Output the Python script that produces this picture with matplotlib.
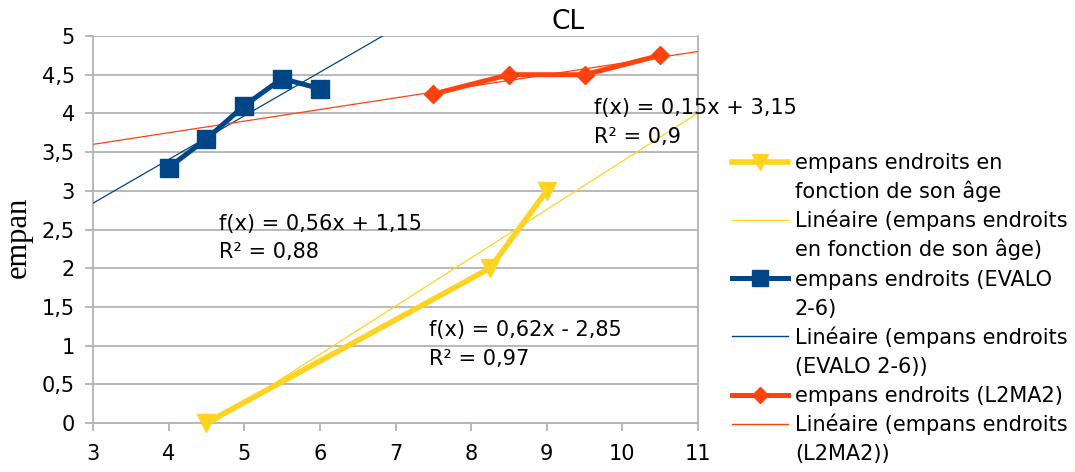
import matplotlib
matplotlib.use("Agg")
import matplotlib.pyplot as plt
from matplotlib.lines import Line2D
import numpy as np

plt.rcParams['font.family'] = ['DejaVu Sans']

# Data
age_x = [4.5, 8.25, 9.0]
age_y = [0.0, 2.0, 3.0]
evalo_x = [4.0, 4.5, 5.0, 5.5, 6.0]
evalo_y = [3.3, 3.67, 4.1, 4.45, 4.32]
l2ma2_x = [7.5, 8.5, 9.5, 10.5]
l2ma2_y = [4.25, 4.5, 4.5, 4.75]

labels = ["empans endroits en\nfonction de son âge",
          "Linéaire (empans endroits\nen fonction de son âge)",
          "empans endroits (EVALO\n2-6)",
          "Linéaire (empans endroits\n(EVALO 2-6))",
          "empans endroits (L2MA2)",
          "Linéaire (empans endroits\n(L2MA2))"]
eq_texts = ["f(x) = 0,62x - 2,85\nR² = 0,97",
            "f(x) = 0,56x + 1,15\nR² = 0,88",
            "f(x) = 0,15x + 3,15\nR² = 0,9"]
eq_pos = [(7.44, 1.01), (4.67, 2.39), (9.63, 3.88)]
yticks = np.arange(0, 5.01, 0.5)
xticks = list(range(3, 12))

YEL = '#FFD320'
BLU = '#004586'
RED = '#FF420E'

W, H = 1075, 472
fig = plt.figure(figsize=(W/100, H/100), dpi=100)
ax = fig.add_axes([93/W, 1-423/H, (698-93)/W, (423-36)/H])

def fx(px):
    return px / W

def fy(py):
    return 1 - py / H

FS = 15

series = [(age_x, age_y, YEL, 'v', 13, 4.0, 11),
          (evalo_x, evalo_y, BLU, 's', 13, 3.6, 12),
          (l2ma2_x, l2ma2_y, RED, 'D', 9.5, 3.6, 8)]
xt = np.linspace(3, 11, 200)
for xs, ys, col, mk, ms, lw, lms in series:
    ax.plot(xs, ys, color=col, lw=lw, marker=mk, ms=ms, zorder=4, clip_on=False)
    k, b = np.polyfit(xs, ys, 1)
    ax.plot(xt, k*xt + b, color=col, lw=0.9, zorder=3)

for txt, (x, y) in zip(eq_texts, eq_pos):
    ax.text(x, y, txt, fontsize=FS, va='center', ha='left', linespacing=1.55, zorder=5)

ax.set_xlim(3, 11)
ax.set_ylim(0, 5)
ax.set_xticks(xticks)
ax.set_yticks(yticks)
ax.set_yticklabels([f"{v:g}".replace('.', ',') for v in yticks])
ax.grid(True, axis='y', color='#b3b3b3', lw=1.3)
ax.grid(False, axis='x')
ax.spines['top'].set_visible(False)
for s in ['left', 'bottom', 'right']:
    ax.spines[s].set_color('#b3b3b3')
    ax.spines[s].set_linewidth(1.3)
ax.tick_params(axis='both', colors='#b3b3b3', labelcolor='black', labelsize=FS, length=6, width=1.3)
ax.tick_params(axis='y', pad=7)
ax.tick_params(axis='x', pad=9)
ax.set_axisbelow(True)

fig.text(fx(18), fy(237), 'empan', family=['Liberation Serif', 'DejaVu Serif'], fontsize=22,
         rotation=90, ha='center', va='center')
fig.text(fx(568), fy(22), 'CL', fontsize=19, ha='center', va='center')

# Manual legend (LibreOffice style: handle aligned with first text line)
line_h = 29.1
y0 = 161.7
row = 0
for i, lab in enumerate(labels):
    xs, ys, col, mk, ms, lw, lms = series[i // 2]
    yc = y0 + row * line_h
    if i % 2 == 0:
        fig.add_artist(Line2D([fx(732), fx(788)], [fy(yc), fy(yc)], transform=fig.transFigure,
                              color=col, lw=lw))
        fig.add_artist(Line2D([fx(760)], [fy(yc)], transform=fig.transFigure,
                              color=col, marker=mk, ms=lms, lw=0))
    else:
        fig.add_artist(Line2D([fx(732), fx(788)], [fy(yc), fy(yc)], transform=fig.transFigure,
                              color=col, lw=1.0))
    for ln in lab.split('\n'):
        yl = y0 + row * line_h
        fig.text(fx(795), fy(yl + 7.5), ln, fontsize=FS, ha='left', va='baseline')
        row += 1

fig.savefig('out.png', dpi=100)
